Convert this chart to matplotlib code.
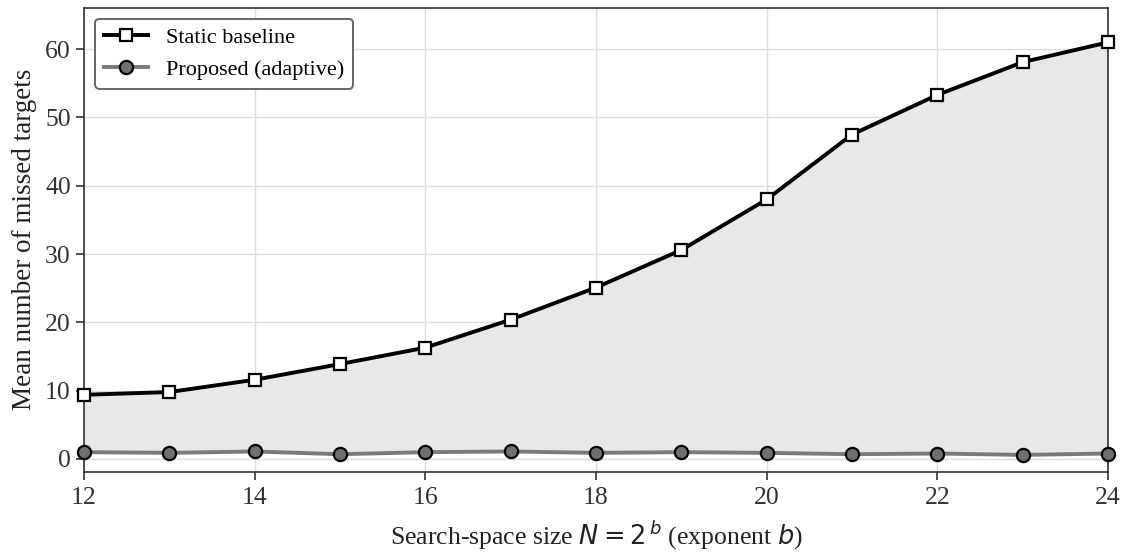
import matplotlib
matplotlib.use('Agg')
import matplotlib.pyplot as plt

# Données
exponents = [12, 13, 14, 15, 16, 17, 18, 19, 20, 21, 22, 23, 24]
static_baseline = [9.4, 9.8, 11.6, 13.9, 16.3, 20.4, 25.1, 30.6, 38.0, 47.5, 53.3, 58.1, 61.0]
proposed = [1.0, 0.9, 1.1, 0.7, 1.0, 1.1, 0.9, 1.0, 0.9, 0.7, 0.8, 0.6, 0.8]
xticks = [12, 14, 16, 18, 20, 22, 24]
yticks = [0, 10, 20, 30, 40, 50, 60]

plt.rcParams['font.family'] = ['Liberation Serif', 'DejaVu Serif']
plt.rcParams['mathtext.fontset'] = 'dejavusans'

fig = plt.figure(figsize=(11.23, 5.52), dpi=100)
ax = fig.add_axes([84 / 1123, 1 - 471.7 / 552, (1108 - 84) / 1123, (471.7 - 7.5) / 552])

# Zone entre les deux courbes
ax.fill_between(exponents, proposed, static_baseline, color='#e8e8e8', zorder=1)

ax.plot(exponents, static_baseline, color='black', lw=2.8, marker='s', markersize=9,
        markerfacecolor='white', markeredgecolor='black', markeredgewidth=1.6,
        label='Static baseline', zorder=4, clip_on=False)
ax.plot(exponents, proposed, color='#7a7a7a', lw=2.8, marker='o', markersize=9.5,
        markerfacecolor='#707070', markeredgecolor='black', markeredgewidth=1.6,
        label='Proposed (adaptive)', zorder=3, clip_on=False)

ax.set_xlim(12, 24)
ax.set_ylim(-1.86, 66.1)
ax.set_xticks(xticks)
ax.set_yticks(yticks)
ax.grid(True, color='#dddddd', lw=1.0, zorder=0)
ax.set_axisbelow(True)

for s in ax.spines.values():
    s.set_color('#333333')
    s.set_linewidth(1.2)
ax.tick_params(colors='#333333', labelsize=18.5, length=6, width=1.2, labelcolor='#333333')
ax.tick_params(axis='x', pad=5)

ax.set_xlabel(r'Search-space size $N = 2^{\,b}$ (exponent $b$)', fontsize=18.5, color='#222222',
              labelpad=7)
ax.set_ylabel('Mean number of missed targets', fontsize=19.5, color='#222222', labelpad=6)

leg = ax.legend(loc='upper left', fontsize=16, frameon=True, fancybox=True,
                edgecolor='#666666', framealpha=1.0, handlelength=2.0)
leg.get_frame().set_linewidth(1.4)

fig.savefig('out.png', dpi=100)
